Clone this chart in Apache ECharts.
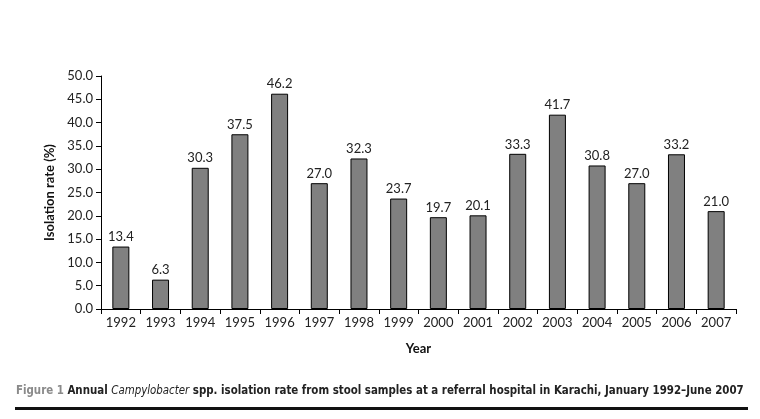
<!DOCTYPE html>
<html><head><meta charset="utf-8">
<script src="https://cdn.jsdelivr.net/npm/echarts@6/dist/echarts.min.js"></script>
<style>html,body{margin:0;padding:0;background:#fff}#c{width:760px;height:419px}</style>
</head><body><div id="c"></div>
<script>
const years = ['1992','1993','1994','1995','1996','1997','1998','1999','2000','2001','2002','2003','2004','2005','2006','2007'];
const rates = [13.4, 6.3, 30.3, 37.5, 46.2, 27.0, 32.3, 23.7, 19.7, 20.1, 33.3, 41.7, 30.8, 27.0, 33.2, 21.0];
const yTitle = 'Isolation rate (%)';
const xTitle = 'Year';
const captionLead = 'Figure 1 ';
const captionA = 'Annual ';
const captionItalic = 'Campylobacter';
const captionB = ' spp. isolation rate from stool samples at a referral hospital in Karachi, January 1992–June 2007';

const chart = echarts.init(document.getElementById('c'), null, {renderer:'canvas'});
const tickFont = 'Lato, "DejaVu Sans", sans-serif';
const capFont = '"DejaVu Sans Condensed", "DejaVu Sans", sans-serif';
chart.setOption({
  animation:false,
  backgroundColor:'#fff',
  grid:{left:101, right:24, top:76, bottom:110, containLabel:false},
  xAxis:{
    type:'category', data:years,
    name:xTitle, nameLocation:'middle', nameGap:33,
    nameTextStyle:{fontFamily:tickFont, fontWeight:'bold', fontSize:13, color:'#111'},
    axisLine:{lineStyle:{color:'#000', width:1}},
    axisTick:{show:true, length:5, inside:false, lineStyle:{color:'#000'}},
    axisLabel:{fontFamily:tickFont, fontSize:13, color:'#222', margin:7}
  },
  yAxis:{
    type:'value', min:0, max:50, interval:5,
    name:yTitle, nameLocation:'middle', nameGap:44, nameRotate:90,
    nameTextStyle:{fontFamily:tickFont, fontWeight:'bold', fontSize:13, color:'#111'},
    axisLine:{show:true, lineStyle:{color:'#000', width:1}},
    axisTick:{show:true, length:5, lineStyle:{color:'#000'}},
    splitLine:{show:false},
    axisLabel:{fontFamily:tickFont, fontSize:13, color:'#222', margin:8, formatter:v=>v.toFixed(1)}
  },
  series:[{
    type:'bar', data:rates, barWidth:17,
    itemStyle:{color:'#808080', borderColor:'#000', borderWidth:1},
    label:{show:true, position:'top', distance:3, fontFamily:tickFont, fontSize:13, color:'#222', formatter:p=>p.value.toFixed(1)}
  }],
  graphic:[
    {type:'text', left:16, top:386, style:{
      rich:{g:{fill:'#8a8a8a', fontWeight:'bold', fontSize:11.4, fontFamily:capFont},
            n:{fill:'#222', fontWeight:'bold', fontSize:11.4, fontFamily:capFont},
            i:{fill:'#222', fontStyle:'italic', fontSize:11.4, fontFamily:capFont}},
      text:'{g|'+captionLead+'}{n|'+captionA+'}{i|'+captionItalic+'}{n|'+captionB+'}'
    }},
    {type:'rect', shape:{x:15, y:407, width:733, height:3}, style:{fill:'#111'}}
  ]
});
</script></body></html>
